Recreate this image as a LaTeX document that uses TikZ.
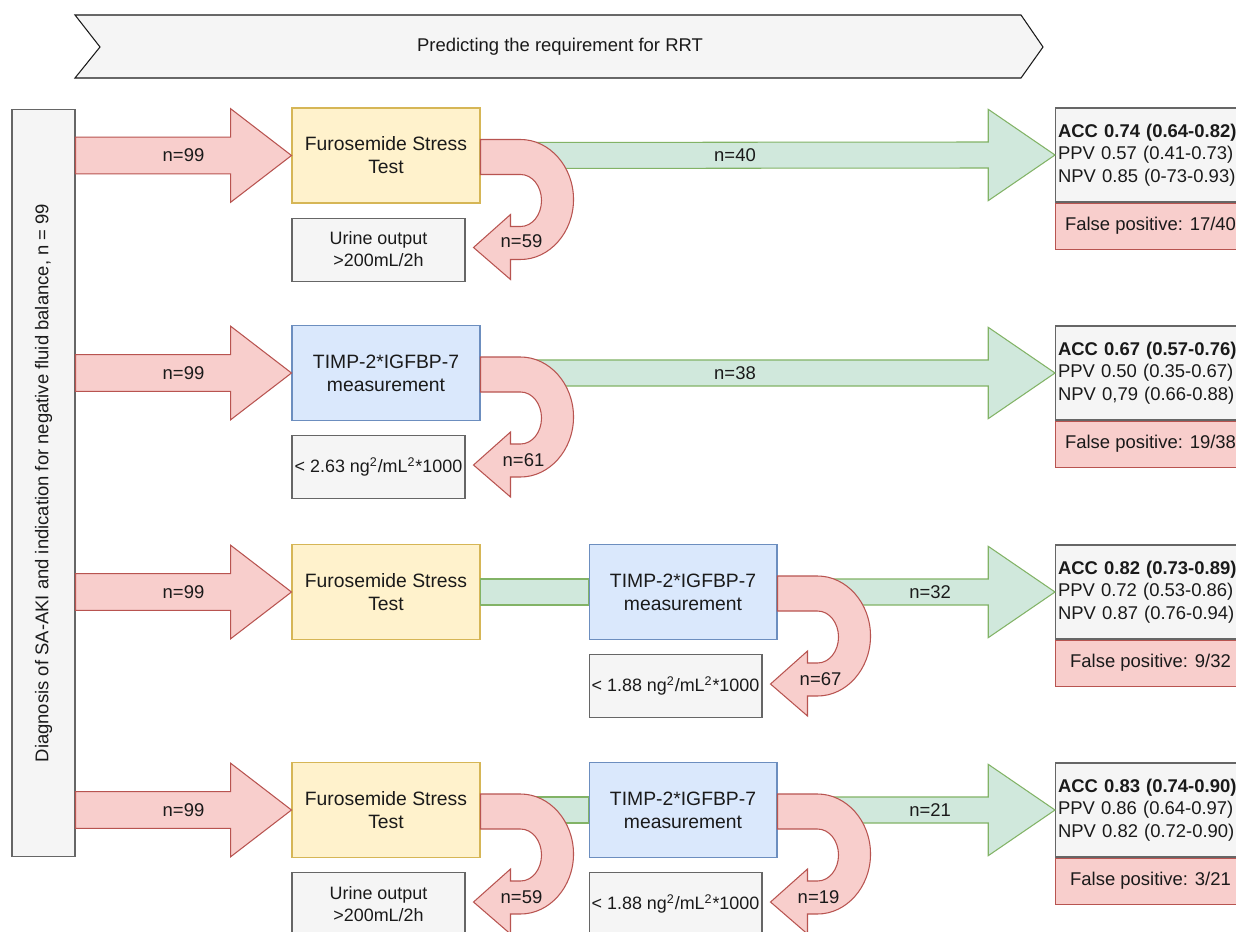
\documentclass[tikz,border=0pt]{standalone}
\usepackage{fontspec}
\setmainfont{Liberation Sans}
\usetikzlibrary{positioning,calc}
\definecolor{redfill}{HTML}{F8CECC}
\definecolor{reddraw}{HTML}{B85450}
\definecolor{greenfill}{HTML}{D0E8DC}
\definecolor{greendraw}{HTML}{82B366}
\definecolor{yellowfill}{HTML}{FFF2CC}
\definecolor{yellowdraw}{HTML}{D6B656}
\definecolor{bluefill}{HTML}{DAE8FC}
\definecolor{bluedraw}{HTML}{6C8EBF}
\definecolor{grayfill}{HTML}{F5F5F5}
\definecolor{graydraw}{HTML}{666666}
\definecolor{inkcol}{HTML}{1A1A1A}

% fat horizontal arrow: style, from, to, shaft half, head half, head length
\newcommand{\blockarrow}[6]{%
  \draw[#1] ([yshift=#4]#2) -- ([xshift=-#6,yshift=#4]#3) -- ([xshift=-#6,yshift=#5]#3) -- (#3)
    -- ([xshift=-#6,yshift=-#5]#3) -- ([xshift=-#6,yshift=-#4]#3) -- ([yshift=-#4]#2) -- cycle;}
\newcommand{\redarrow}[2]{\blockarrow{redarr}{#1}{#2}{10.5pt}{26.6pt}{34.6pt}}
\newcommand{\greenarrow}[2]{\blockarrow{grnarr}{#1}{#2}{7.4pt}{26pt}{38pt}}
% u-turn arrow leaving a box to the right and coming back below it
\newcommand{\uturn}[1]{%
  \draw[redarr] (#1) ++(0,-16) -- ++(40,0)
    .. controls +(29,0) and +(0,-33) .. ++(53,60)
    .. controls +(0,33) and +(29,0) .. ++(-53,60)
    -- ++(-10,0) -- ++(0,20) -- ++(-37,-32) -- ++(37,-33) -- ++(0,12) -- ++(10,0)
    .. controls +(12,0) and +(0,14) .. ++(21,-26)
    .. controls +(0,-14) and +(12,0) .. ++(-21,-26)
    -- ++(-40,0) -- cycle;}

\begin{document}
\begin{tikzpicture}[x=0.02cm,y=-0.02cm,text=inkcol,
  box/.style={draw, line width=0.6pt, minimum width=3.76cm, minimum height=1.9cm, align=center, font=\fontsize{11}{13}\selectfont},
  fst/.style={box, fill=yellowfill, draw=yellowdraw},
  timp/.style={box, fill=bluefill, draw=bluedraw},
  cut/.style={draw=graydraw, fill=grayfill, line width=0.6pt, minimum width=3.46cm, minimum height=1.26cm, inner xsep=0.5pt, align=center, font=\fontsize{10.2}{12.5}\selectfont},
  res/.style={draw=graydraw, fill=grayfill, line width=0.6pt, anchor=west, minimum height=1.88cm, text width=4.3cm, inner xsep=0.05cm, align=left, font=\fontsize{10.5}{12.8}\selectfont},
  fp/.style={draw=reddraw, fill=redfill, line width=0.6pt, minimum width=3.8cm, minimum height=0.92cm, font=\fontsize{10.5}{13}\selectfont},
  lbl/.style={font=\fontsize{10.5}{12}\selectfont},
  redarr/.style={draw=reddraw, fill=redfill, line width=0.6pt},
  grnarr/.style={draw=greendraw, fill=greenfill, line width=0.6pt},
]
\useasboundingbox[fill=white] (0,0) rectangle (1236,932);

% banner
\draw[fill=grayfill, draw=inkcol, line width=0.6pt] (75,15) -- (1021,15) -- (1043,47) -- (1021,78) -- (75,78) -- (100,47) -- cycle;
\node[lbl] (title) at (560,47) {Predicting the requirement for RRT};

% left box
\node[draw=graydraw, fill=grayfill, line width=0.6pt, rotate=90, minimum width=14.96cm, minimum height=1.26cm, lbl] (diag) at (43.5,483)
  {Diagnosis of SA-AKI and indication for negative fluid balance, n = 99};

% row 1
\node[fst] (fst1) at (386,155.5) {Furosemide Stress\\Test};
\node[cut, below right=0.28cm and 0cm of fst1.south west] (uo1) {Urine output\\>200mL/2h};
\node[res] (res1) at (1055,155) {\textbf{ACC 0.74 (0.64-0.82)}\\PPV 0.57 (0.41-0.73)\\NPV 0.85 (0-73-0.93)};
\node[fp, below right=0pt and 0pt of res1.south west] (fp1) {False positive: 17/40};

% row 2
\node[timp] (timp2) at (386,373) {TIMP-2*IGFBP-7\\measurement};
\node[cut, below right=0.28cm and 0cm of timp2.south west] (cut2) {< 2.63 ng\textsuperscript{2}/mL\textsuperscript{2}*1000};
\node[res] (res2) at (1055,373) {\textbf{ACC 0.67 (0.57-0.76)}\\PPV 0.50 (0.35-0.67)\\NPV 0,79 (0.66-0.88)};
\node[fp, below right=0pt and 0pt of res2.south west] (fp2) {False positive: 19/38};

% row 3
\node[fst] (fst3) at (386,592) {Furosemide Stress\\Test};
\node[timp] (timp3) at (683,592) {TIMP-2*IGFBP-7\\measurement};
\node[cut, below right=0.28cm and 0cm of timp3.south west] (cut3) {< 1.88 ng\textsuperscript{2}/mL\textsuperscript{2}*1000};
\node[res] (res3) at (1055,592) {\textbf{ACC 0.82 (0.73-0.89)}\\PPV 0.72 (0.53-0.86)\\NPV 0.87 (0.76-0.94)};
\node[fp, below right=0pt and 0pt of res3.south west] (fp3) {False positive: 9/32};

% row 4
\node[fst] (fst4) at (386,810) {Furosemide Stress\\Test};
\node[timp] (timp4) at (683,810) {TIMP-2*IGFBP-7\\measurement};
\node[cut, below right=0.28cm and 0cm of fst4.south west] (uo4) {Urine output\\>200mL/2h};
\node[cut, below right=0.28cm and 0cm of timp4.south west] (cut4) {< 1.88 ng\textsuperscript{2}/mL\textsuperscript{2}*1000};
\node[res] (res4) at (1055,810) {\textbf{ACC 0.83 (0.74-0.90)}\\PPV 0.86 (0.64-0.97)\\NPV 0.82 (0.72-0.90)};
\node[fp, below right=0pt and 0pt of res4.south west] (fp4) {False positive: 3/21};

% green arrows
\greenarrow{fst1.east}{res1.west}
\greenarrow{timp2.east}{res2.west}
\draw[grnarr] ([yshift=7.4pt]fst3.east) rectangle ([yshift=-7.4pt]timp3.west);
\greenarrow{timp3.east}{res3.west}
\draw[grnarr] ([yshift=7.4pt]fst4.east) rectangle ([yshift=-7.4pt]timp4.west);
\greenarrow{timp4.east}{res4.west}

% red u-turns
\uturn{fst1.east}
\uturn{timp2.east}
\uturn{timp3.east}
\uturn{fst4.east}
\uturn{timp4.east}

% inputs
\coordinate (in1) at (diag.south |- fst1.west);
\coordinate (in2) at (diag.south |- timp2.west);
\coordinate (in3) at (diag.south |- fst3.west);
\coordinate (in4) at (diag.south |- fst4.west);
\redarrow{in1}{fst1.west}
\redarrow{in2}{timp2.west}
\redarrow{in3}{fst3.west}
\redarrow{in4}{fst4.west}

% labels
\node[lbl] (n1) at ($(in1)!0.5!(fst1.west)$) {n=99};
\node[lbl] (n2) at ($(in2)!0.5!(timp2.west)$) {n=99};
\node[lbl] (n3) at ($(in3)!0.5!(fst3.west)$) {n=99};
\node[lbl] (n4) at ($(in4)!0.5!(fst4.west)$) {n=99};
\node[lbl] (g1) at ($(fst1.east)!0.443!(res1.west)$) {n=40};
\node[lbl] (g2) at ($(timp2.east)!0.443!(res2.west)$) {n=38};
\node[lbl] (g3) at ($(timp3.east)!0.55!(res3.west)$) {n=32};
\node[lbl] (g4) at ($(timp4.east)!0.55!(res4.west)$) {n=21};
\node[lbl] (u1) at ([shift={(41,86)}]fst1.east) {n=59};
\node[lbl] (u2) at ([shift={(43,87)}]timp2.east) {n=61};
\node[lbl] (u3) at ([shift={(43,87)}]timp3.east) {n=67};
\node[lbl] (u4) at ([shift={(41,87)}]fst4.east) {n=59};
\node[lbl] (u5) at ([shift={(41,87)}]timp4.east) {n=19};
\end{tikzpicture}
\end{document}
